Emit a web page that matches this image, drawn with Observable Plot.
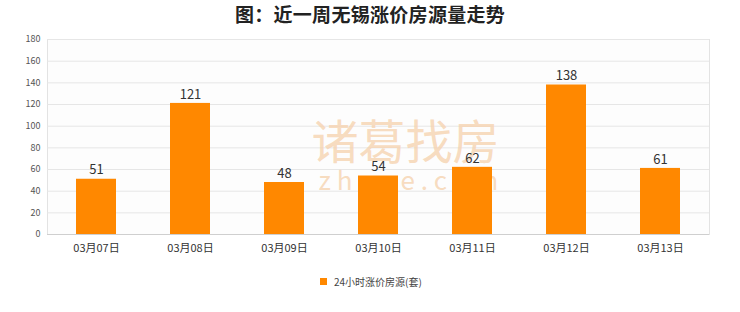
<!DOCTYPE html>
<html><head><meta charset="utf-8">
<script src="https://cdn.jsdelivr.net/npm/d3@7"></script>
<script src="https://cdn.jsdelivr.net/npm/@observablehq/plot@0.6"></script>
<style>
body{margin:0;background:#fff;font-family:"Noto Sans CJK SC","DejaVu Sans",sans-serif;}
#wrap{position:relative;width:740px;height:312px;}
#title{position:absolute;top:0px;left:0;width:740px;text-align:center;font-size:19px;font-weight:bold;color:#222;letter-spacing:0.3px;}
#legend{position:absolute;top:274px;left:320px;font-size:10px;color:#444;display:flex;align-items:center;}
#legend span.sw{display:inline-block;width:7px;height:7px;background:#ff8800;margin-right:7px;}
#chart{position:absolute;top:0;left:0;}
</style></head>
<body>
<div id="wrap">
<div id="chart"></div>
<div id="title">图：近一周无锡涨价房源量走势</div>
<div id="legend"><span class="sw"></span><span>24小时涨价房源(套)</span></div>
</div>
<script>
const dates = ["03月07日","03月08日","03月09日","03月10日","03月11日","03月12日","03月13日"];
const values = [51,121,48,54,62,138,61];
const yTicks = [0,20,40,60,80,100,120,140,160,180];
const seriesName = "24小时涨价房源(套)";

const data = dates.map((d,i)=>({date:d, value:values[i]}));

const plot = Plot.plot({
  width:740, height:312,
  marginLeft:47, marginRight:31, marginTop:39, marginBottom:78,
  style:{fontFamily:"'Noto Sans CJK SC','DejaVu Sans',sans-serif", background:"transparent"},
  x:{domain:dates, paddingInner:0.577, paddingOuter:0.29, label:null},
  y:{domain:[0,180], ticks:yTicks, label:null},
  marks:[
    Plot.frame({stroke:"#e3e3e3", fill:"#fdfdfd"}),
    Plot.gridY(yTicks,{stroke:"#e6e6e6", strokeOpacity:1}),
    Plot.text(["诸葛找房"],{frameAnchor:"middle", dx:27, dy:7, fontSize:47, fill:"#f6d3b0", fillOpacity:0.8}),
    Plot.text(["z h u g e . c o m"],{frameAnchor:"middle", dx:30, dy:45, fontSize:26, fill:"#f6d3b0", fillOpacity:0.8}),
    Plot.barY(data,{x:"date", y:"value", fill:"#ff8800"}),
    Plot.text(data,{x:"date", y:"value", text:d=>String(d.value), dy:-9, fontSize:13, fill:"#333"}),
    Plot.axisY(yTicks,{tickSize:0, tickPadding:7, fontSize:9, fill:"#555", label:null}),
    Plot.axisX({tickSize:0, tickPadding:10, fontSize:11, fill:"#333", label:null}),
    Plot.ruleY([0],{stroke:"#cfcfcf"})
  ]
});
document.getElementById("chart").appendChild(plot);
</script>
</body></html>
